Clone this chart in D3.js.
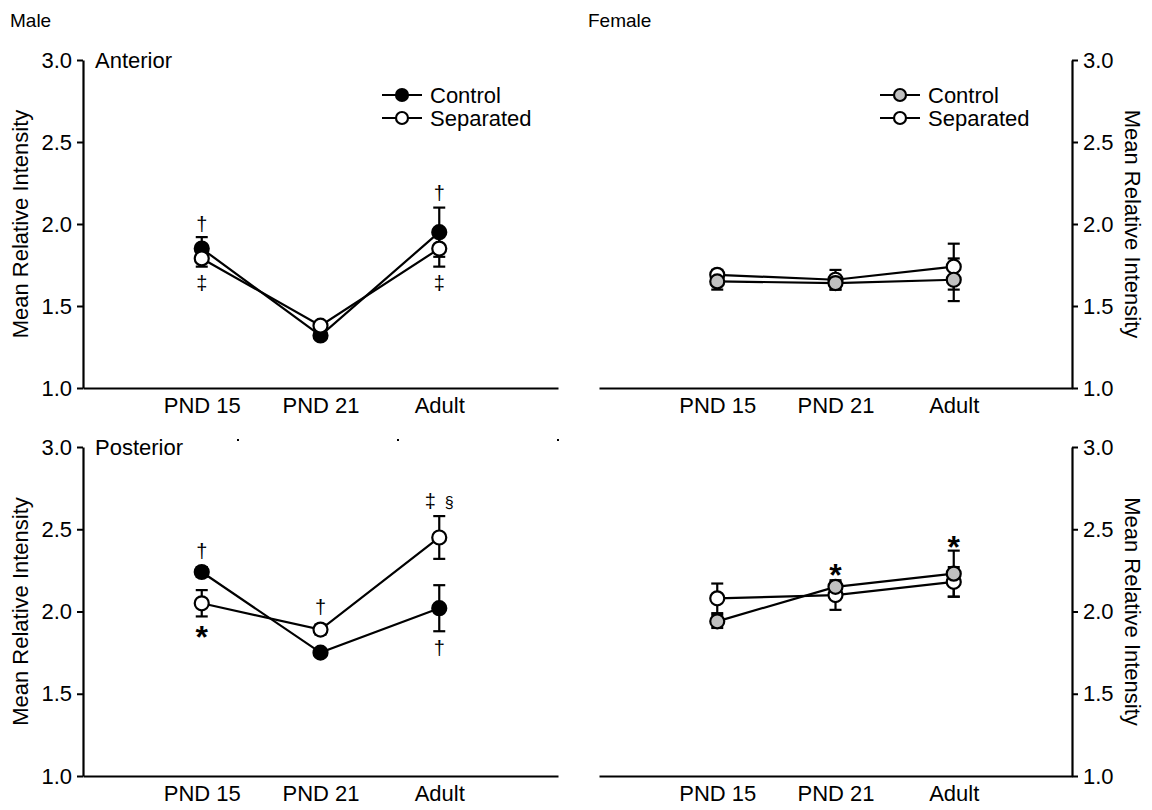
<!DOCTYPE html>
<html>
<head>
<meta charset="utf-8">
<script src="https://cdn.jsdelivr.net/npm/d3@7"></script>
<style>
  html, body { margin: 0; padding: 0; background: #fff; }
  svg { display: block; font-family: "Liberation Sans", Arial, sans-serif; }
</style>
</head>
<body>
<svg id="chart" width="1152" height="810"></svg>
<script>
// Age groups on the x axis
const categories = ["PND 15", "PND 21", "Adult"];
const yTicks = [1.0, 1.5, 2.0, 2.5, 3.0];

// Male, anterior region
const maleAntControl = [1.85, 1.32, 1.95];
const maleAntControlErr = [0.07, 0.02, 0.15];
const maleAntSeparated = [1.79, 1.38, 1.85];
const maleAntSeparatedErr = [0.05, 0.02, 0.11];

// Male, posterior region
const malePostControl = [2.24, 1.75, 2.02];
const malePostControlErr = [0.03, 0.02, 0.14];
const malePostSeparated = [2.05, 1.89, 2.45];
const malePostSeparatedErr = [0.08, 0.03, 0.13];

// Female, anterior region
const femAntControl = [1.65, 1.64, 1.66];
const femAntControlErr = [0.05, 0.04, 0.13];
const femAntSeparated = [1.69, 1.66, 1.74];
const femAntSeparatedErr = [0.03, 0.06, 0.14];

// Female, posterior region
const femPostControl = [1.94, 2.15, 2.23];
const femPostControlErr = [0.04, 0.03, 0.14];
const femPostSeparated = [2.08, 2.10, 2.18];
const femPostSeparatedErr = [0.09, 0.09, 0.09];

// Significance marks: [category, value level, symbol, horizontal nudge]
const maleAntMarks = [["PND 15", 2.00, "†", 0], ["PND 15", 1.64, "‡", 0], ["Adult", 2.19, "†", 0], ["Adult", 1.64, "‡", 0]];
const malePostMarks = [["PND 15", 2.37, "†", 0], ["PND 21", 2.03, "†", 0], ["Adult", 2.67, "‡", -9], ["Adult", 1.78, "†", 0]];
const malePostStars = [["PND 15", 1.89]];
const malePostSection = [["Adult", 2.66, "§", 10]];
const femPostStars = [["PND 21", 2.27], ["Adult", 2.44]];

const svg = d3.select("#chart");
const black = "#000";
const FONT = "Liberation Sans, Arial, sans-serif";

function panel(cfg) {
  const g = svg.append("g");
  const x = d3.scalePoint().domain(categories).range(cfg.xRange).padding(1);
  const y = d3.scaleLinear().domain([1, 3]).range(cfg.yRange);

  // x axis
  const xg = g.append("g")
    .attr("transform", `translate(0,${y(1)})`)
    .call(d3.axisBottom(x).tickSize(0).tickSizeOuter(0).tickPadding(9));
  xg.select(".domain").attr("stroke", black).attr("stroke-width", 2.2);
  xg.selectAll("text").attr("font-size", 22).attr("fill", black).attr("font-family", FONT);

  // y axis
  const yAxisGen = cfg.right ? d3.axisRight(y) : d3.axisLeft(y);
  const yx = cfg.right ? cfg.xRange[1] : cfg.xRange[0];
  const yg = g.append("g")
    .attr("transform", `translate(${yx},0)`)
    .call(yAxisGen.tickValues(yTicks).tickFormat(d3.format(".1f")).tickSize(6).tickSizeOuter(0).tickPadding(5));
  yg.select(".domain").attr("stroke", black).attr("stroke-width", 2.2);
  yg.selectAll(".tick line").attr("stroke", black).attr("stroke-width", 2);
  yg.selectAll("text").attr("font-size", 22).attr("fill", black).attr("font-family", FONT);

  // y axis title
  const midY = (cfg.yRange[0] + cfg.yRange[1]) / 2;
  g.append("text")
    .attr("transform", `translate(${cfg.titleX},${midY}) rotate(${cfg.right ? 90 : -90})`)
    .attr("text-anchor", "middle").attr("dominant-baseline", "central")
    .attr("font-size", 22).text("Mean Relative Intensity");

  if (cfg.region) {
    g.append("text").attr("x", yx + 12).attr("y", y(3) + 8)
      .attr("font-size", 22).text(cfg.region);
  }

  const series = cfg.series.map(s => categories.map((c, i) => ({ c, v: s.values[i], e: s.err[i] })));

  // connecting lines
  const line = d3.line().x(d => x(d.c)).y(d => y(d.v));
  series.forEach(pts => {
    g.append("path").datum(pts).attr("d", line)
      .attr("fill", "none").attr("stroke", black).attr("stroke-width", 2.2);
  });

  // error bars
  const cap = 6;
  series.forEach(pts => {
    const eg = g.append("g").attr("stroke", black).attr("stroke-width", 2.2);
    pts.forEach(d => {
      const cx = x(d.c), top = y(d.v + d.e), bot = y(d.v - d.e);
      eg.append("line").attr("x1", cx).attr("x2", cx).attr("y1", top).attr("y2", bot);
      eg.append("line").attr("x1", cx - cap).attr("x2", cx + cap).attr("y1", top).attr("y2", top);
      eg.append("line").attr("x1", cx - cap).attr("x2", cx + cap).attr("y1", bot).attr("y2", bot);
    });
  });

  // markers, drawn in the configured stacking order
  cfg.drawOrder.forEach(k => {
    const s = cfg.series[k];
    g.selectAll(null).data(series[k]).enter().append("circle")
      .attr("cx", d => x(d.c)).attr("cy", d => y(d.v)).attr("r", 7)
      .attr("fill", s.fill).attr("stroke", black).attr("stroke-width", 2.2);
  });

  // significance symbols
  (cfg.marks || []).forEach(([c, v, t, dx]) => {
    g.append("text").attr("x", x(c) + dx).attr("y", y(v)).attr("text-anchor", "middle")
      .attr("dominant-baseline", "central").attr("font-size", 20).text(t);
  });
  (cfg.section || []).forEach(([c, v, t, dx]) => {
    g.append("text").attr("x", x(c) + dx).attr("y", y(v)).attr("text-anchor", "middle")
      .attr("dominant-baseline", "central").attr("font-size", 16).text(t);
  });
  // asterisks: glyph sits near cap height, so the baseline goes below the intended centre
  const starSize = 32;
  (cfg.stars || []).forEach(([c, v]) => {
    g.append("text").attr("x", x(c)).attr("y", y(v) + starSize * 0.58).attr("text-anchor", "middle")
      .attr("font-size", starSize).attr("font-weight", "bold").text("*");
  });

  // legend
  if (cfg.legend) {
    const lg = g.append("g");
    cfg.series.forEach((s, i) => {
      const ly = cfg.legend[1] + i * 23;
      const lx = cfg.legend[0];
      lg.append("line").attr("x1", lx).attr("x2", lx + 40).attr("y1", ly).attr("y2", ly)
        .attr("stroke", black).attr("stroke-width", 2.2);
      lg.append("circle").attr("cx", lx + 20).attr("cy", ly).attr("r", 6)
        .attr("fill", s.fill).attr("stroke", black).attr("stroke-width", 2.2);
      lg.append("text").attr("x", lx + 48).attr("y", ly).attr("dominant-baseline", "central")
        .attr("font-size", 22).text(s.name);
    });
  }
  return { g, x, y };
}

const topY = [388, 60];
const botY = [776, 447];
const leftX = [83, 558];
const rightX = [599, 1072];

panel({
  xRange: leftX, yRange: topY, titleX: 20, region: "Anterior",
  series: [
    { name: "Control", values: maleAntControl, err: maleAntControlErr, fill: "#000" },
    { name: "Separated", values: maleAntSeparated, err: maleAntSeparatedErr, fill: "#fff" }
  ],
  drawOrder: [0, 1], marks: maleAntMarks, legend: [382, 95]
});

panel({
  xRange: leftX, yRange: botY, titleX: 20, region: "Posterior",
  series: [
    { name: "Control", values: malePostControl, err: malePostControlErr, fill: "#000" },
    { name: "Separated", values: malePostSeparated, err: malePostSeparatedErr, fill: "#fff" }
  ],
  drawOrder: [0, 1], marks: malePostMarks, stars: malePostStars, section: malePostSection
});

panel({
  xRange: rightX, yRange: topY, right: true, titleX: 1132,
  series: [
    { name: "Control", values: femAntControl, err: femAntControlErr, fill: "#c0c0c0" },
    { name: "Separated", values: femAntSeparated, err: femAntSeparatedErr, fill: "#fff" }
  ],
  drawOrder: [1, 0], legend: [880, 95]
});

panel({
  xRange: rightX, yRange: botY, right: true, titleX: 1132,
  series: [
    { name: "Control", values: femPostControl, err: femPostControlErr, fill: "#c0c0c0" },
    { name: "Separated", values: femPostSeparated, err: femPostSeparatedErr, fill: "#fff" }
  ],
  drawOrder: [1, 0], stars: femPostStars
});

// small specks along the top of the posterior panel
[238, 398, 558].forEach(px => {
  svg.append("rect").attr("x", px - 1).attr("y", 439).attr("width", 2).attr("height", 2).attr("fill", "#000");
});

// sex headings
svg.append("text").attr("x", 10).attr("y", 27).attr("font-size", 19).text("Male");
svg.append("text").attr("x", 588).attr("y", 27).attr("font-size", 19).text("Female");
</script>
</body>
</html>
